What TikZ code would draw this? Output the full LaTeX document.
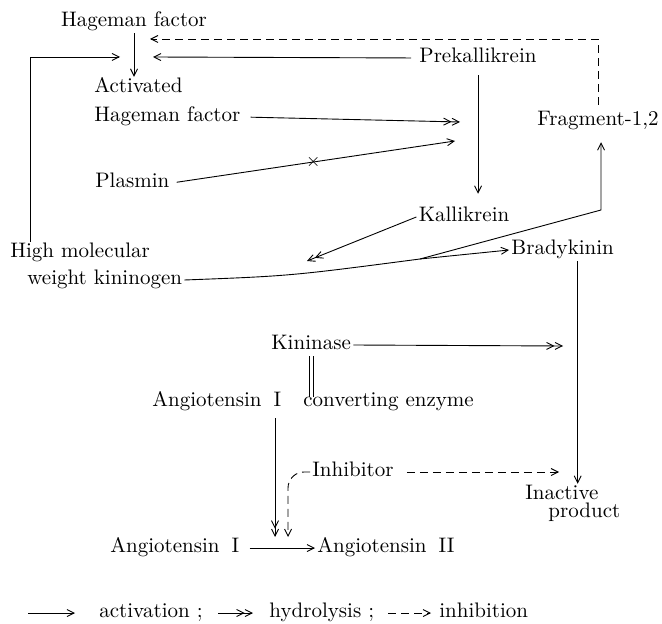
\documentclass[tikz,border=0pt]{standalone}
\usetikzlibrary{arrows.meta, positioning, calc}
\tikzset{
    lbl/.style = {inner sep=1pt, text height=1.6ex, text depth=0.45ex, font=\fontsize{10.5}{12}\selectfont},
    act/.style = {->, line width=0.45pt},
    hyd/.style = {->>, line width=0.45pt},
    inh/.style = {->, line width=0.45pt, dash pattern=on 4pt off 2.5pt},
    >={Straight Barb[length=3.5pt, width=3.5pt]}
}
\begin{document}
\begin{tikzpicture}[x=0.5pt, y=-0.5pt]
\useasboundingbox (0,0) rectangle (662,624);
\node[lbl] (hf) at (134,22) {Hageman factor};
\node[lbl, anchor=west] (act) at (92,88) {Activated};
\node[lbl, anchor=west] (ahf) at (92,117) {Hageman factor};
\node[lbl, anchor=west] (plas) at (93,183) {Plasmin};
\node[lbl] (pk) at (478,58) {Prekallikrein};
\node[lbl] (frag) at (598,121) {Fragment-1,2};
\node[lbl] (kal) at (464,217) {Kallikrein};
\node[lbl, anchor=west] (brady) at (509,250) {Bradykinin};
\node[lbl, anchor=west] (hmw1) at (8,253) {High molecular};
\node[lbl, anchor=west] (hmw2) at (25,280) {weight kininogen};
\node[lbl, anchor=west] (kin) at (269,345) {Kininase};
\node[lbl, anchor=west] (ang1u) at (150,402) {Angiotensin\hspace{6pt}I};
\node[lbl, anchor=west] (conv) at (301,402) {converting enzyme};
\node[lbl, anchor=west] (inhib) at (310,472) {Inhibitor};
\node[lbl, anchor=west] (inact) at (523,495) {Inactive};
\node[lbl, anchor=west] (prod) at (546,513) {product};
\node[lbl, anchor=west] (ang1) at (108,548) {Angiotensin\hspace{6pt}I};
\node[lbl, anchor=west] (ang2) at (315,548) {Angiotensin\hspace{6pt}II};

\node[lbl, anchor=west] (lgact) at (97,613) {activation ;};
\node[lbl, anchor=west] (lghyd) at (267,613) {hydrolysis ;};
\node[lbl, anchor=west] (lginh) at (437,613) {inhibition};

\coordinate (hfin1) at (150,39);
\coordinate (hfin2) at (153,57);
\coordinate (hfin3) at (120,57);
\coordinate (hx) at (460,122);
\coordinate (px) at (455,141);
\coordinate (kx) at (307,261);
\coordinate (br) at (420,259);
\coordinate (fk) at (601,210);
\coordinate (kinend) at (563,346);
\coordinate (inhend) at (559,472);
\coordinate (cvA) at (275,537);
\coordinate (cvB) at (288,537);

\draw[act] (hf.south) -- (hf.south |- act.north);
\draw[inh, shorten <=2.5pt] (frag.north) |- (hfin1);
\draw[act, shorten <=3pt] (pk.west) -- (hfin2);
\draw[act] ([xshift=11pt]hmw1.north west) |- (hfin3);
\draw[hyd, shorten <=4pt] (ahf.east) -- (hx);
\draw[act, shorten <=2.5pt] (plas.east) -- node[pos=0.5, inner sep=0pt, font=\small] (blk) {$\times$} (px);
\draw[act, shorten <=3pt, shorten >=6pt] (pk.south) -- (pk.south |- kal.north);

\draw[hyd] (kal.west) -- (kx);
\draw[line width=0.45pt] (hmw2.east) .. controls (290,276) .. (br);
\draw[act] (br) -- (brady.west);
\draw[act, shorten >=5pt] (br) -- (fk) -- (fk |- frag.south);

\draw[hyd] (kin.east) -- (kinend);
\draw[double, double distance=1.6pt, line width=0.4pt, shorten >=-3pt] (kin.south) -- (kin.south |- conv.north);
\path (brady.south) ++(15,0) coordinate (bv);
\draw[act] (bv) -- (bv |- inact.north);

\draw[inh, shorten <=5.5pt] (inhib.east) -- (inhend);
\draw[hyd, shorten <=2.5pt] (ang1u.south east -| cvA) -- (cvA);
\draw[inh, rounded corners=8pt] (inhib.west) -| (cvB);
\draw[act, shorten <=4pt] (ang1.east) -- (ang2.west);

\draw[act] ([xshift=-34.5pt]lgact.west) -- ([xshift=-11pt]lgact.west);
\draw[hyd] ([xshift=-24.5pt]lghyd.west) -- ([xshift=-7pt]lghyd.west);
\draw[inh] ([xshift=-24.5pt]lginh.west) -- ([xshift=-3pt]lginh.west);
\end{tikzpicture}
\end{document}
